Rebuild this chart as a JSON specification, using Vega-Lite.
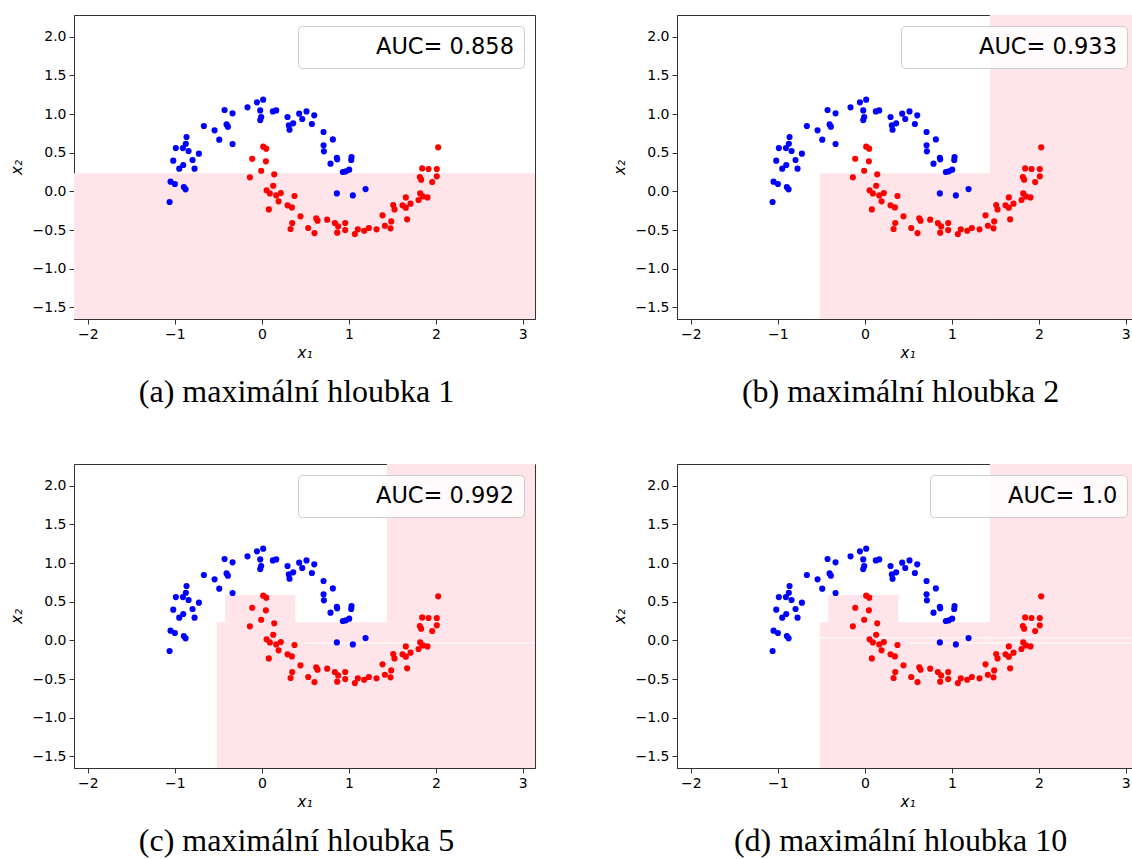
{
  "$schema": "https://vega.github.io/schema/vega-lite/v6.json",
  "padding": {"left": 8, "top": 14, "right": 0, "bottom": 0},
  "background": "white",
  "datasets": {
    "moons": [
      {"x1": -1.061, "x2": -0.138, "label": 0}, {"x1": -1.050, "x2": 0.125, "label": 0}, {"x1": -1.000, "x2": 0.095, "label": 0},
      {"x1": -0.897, "x2": 0.056, "label": 0}, {"x1": -0.877, "x2": 0.026, "label": 0}, {"x1": -1.019, "x2": 0.397, "label": 0},
      {"x1": -0.950, "x2": 0.293, "label": 0}, {"x1": -0.904, "x2": 0.341, "label": 0}, {"x1": -0.989, "x2": 0.560, "label": 0},
      {"x1": -0.908, "x2": 0.560, "label": 0}, {"x1": -0.874, "x2": 0.616, "label": 0}, {"x1": -0.866, "x2": 0.703, "label": 0},
      {"x1": -0.843, "x2": 0.522, "label": 0}, {"x1": -0.797, "x2": 0.405, "label": 0}, {"x1": -0.774, "x2": 0.293, "label": 0},
      {"x1": -0.724, "x2": 0.487, "label": 0}, {"x1": -0.667, "x2": 0.845, "label": 0}, {"x1": -0.544, "x2": 0.789, "label": 0},
      {"x1": -0.490, "x2": 0.668, "label": 0}, {"x1": -0.406, "x2": 0.866, "label": 0}, {"x1": -0.391, "x2": 0.836, "label": 0},
      {"x1": -0.429, "x2": 1.052, "label": 0}, {"x1": -0.337, "x2": 1.009, "label": 0}, {"x1": -0.337, "x2": 0.612, "label": 0},
      {"x1": -0.165, "x2": 1.086, "label": 0}, {"x1": -0.057, "x2": 1.151, "label": 0}, {"x1": 0.015, "x2": 1.185, "label": 0},
      {"x1": -0.019, "x2": 1.047, "label": 0}, {"x1": -0.008, "x2": 0.961, "label": 0}, {"x1": -0.019, "x2": 0.922, "label": 0},
      {"x1": 0.126, "x2": 1.034, "label": 0}, {"x1": 0.165, "x2": 1.047, "label": 0}, {"x1": 0.295, "x2": 0.961, "label": 0},
      {"x1": 0.310, "x2": 0.853, "label": 0}, {"x1": 0.360, "x2": 0.879, "label": 0}, {"x1": 0.318, "x2": 0.797, "label": 0},
      {"x1": 0.429, "x2": 1.004, "label": 0}, {"x1": 0.464, "x2": 0.935, "label": 0}, {"x1": 0.513, "x2": 1.034, "label": 0},
      {"x1": 0.602, "x2": 0.983, "label": 0}, {"x1": 0.575, "x2": 0.871, "label": 0}, {"x1": 0.709, "x2": 0.767, "label": 0},
      {"x1": 0.816, "x2": 0.672, "label": 0}, {"x1": 0.709, "x2": 0.595, "label": 0}, {"x1": 0.713, "x2": 0.517, "label": 0},
      {"x1": 0.862, "x2": 0.435, "label": 0}, {"x1": 0.866, "x2": 0.414, "label": 0}, {"x1": 0.789, "x2": 0.358, "label": 0},
      {"x1": 1.031, "x2": 0.444, "label": 0}, {"x1": 1.027, "x2": 0.405, "label": 0}, {"x1": 0.931, "x2": 0.250, "label": 0},
      {"x1": 0.966, "x2": 0.259, "label": 0}, {"x1": 1.004, "x2": 0.280, "label": 0}, {"x1": 0.862, "x2": -0.026, "label": 0},
      {"x1": 1.046, "x2": -0.052, "label": 0}, {"x1": 1.192, "x2": 0.030, "label": 0},
      {"x1": 0.015, "x2": 0.578, "label": 1}, {"x1": 0.050, "x2": 0.552, "label": 1}, {"x1": -0.111, "x2": 0.422, "label": 1},
      {"x1": 0.046, "x2": 0.388, "label": 1}, {"x1": -0.138, "x2": 0.181, "label": 1}, {"x1": -0.008, "x2": 0.267, "label": 1},
      {"x1": 0.142, "x2": 0.220, "label": 1}, {"x1": 0.054, "x2": 0.013, "label": 1}, {"x1": 0.092, "x2": -0.026, "label": 1},
      {"x1": 0.130, "x2": 0.073, "label": 1}, {"x1": 0.165, "x2": -0.052, "label": 1}, {"x1": 0.218, "x2": -0.022, "label": 1},
      {"x1": 0.192, "x2": -0.129, "label": 1}, {"x1": 0.080, "x2": -0.233, "label": 1}, {"x1": 0.295, "x2": -0.181, "label": 1},
      {"x1": 0.345, "x2": -0.207, "label": 1}, {"x1": 0.375, "x2": -0.060, "label": 1}, {"x1": 0.444, "x2": -0.323, "label": 1},
      {"x1": 0.349, "x2": -0.409, "label": 1}, {"x1": 0.330, "x2": -0.487, "label": 1}, {"x1": 0.533, "x2": -0.474, "label": 1},
      {"x1": 0.605, "x2": -0.539, "label": 1}, {"x1": 0.625, "x2": -0.349, "label": 1}, {"x1": 0.640, "x2": -0.379, "label": 1},
      {"x1": 0.751, "x2": -0.366, "label": 1}, {"x1": 0.839, "x2": -0.409, "label": 1}, {"x1": 0.877, "x2": -0.453, "label": 1},
      {"x1": 0.866, "x2": -0.534, "label": 1}, {"x1": 0.958, "x2": -0.409, "label": 1}, {"x1": 0.958, "x2": -0.500, "label": 1},
      {"x1": 1.069, "x2": -0.552, "label": 1}, {"x1": 1.103, "x2": -0.491, "label": 1}, {"x1": 1.176, "x2": -0.509, "label": 1},
      {"x1": 1.230, "x2": -0.474, "label": 1}, {"x1": 1.318, "x2": -0.491, "label": 1}, {"x1": 1.387, "x2": -0.310, "label": 1},
      {"x1": 1.414, "x2": -0.444, "label": 1}, {"x1": 1.479, "x2": -0.478, "label": 1}, {"x1": 1.487, "x2": -0.388, "label": 1},
      {"x1": 1.510, "x2": -0.177, "label": 1}, {"x1": 1.525, "x2": -0.233, "label": 1}, {"x1": 1.617, "x2": -0.181, "label": 1},
      {"x1": 1.655, "x2": -0.078, "label": 1}, {"x1": 1.655, "x2": -0.211, "label": 1}, {"x1": 1.670, "x2": -0.362, "label": 1},
      {"x1": 1.709, "x2": -0.159, "label": 1}, {"x1": 1.801, "x2": -0.112, "label": 1}, {"x1": 1.820, "x2": -0.026, "label": 1},
      {"x1": 1.851, "x2": -0.065, "label": 1}, {"x1": 1.904, "x2": -0.078, "label": 1}, {"x1": 1.816, "x2": 0.185, "label": 1},
      {"x1": 1.831, "x2": 0.151, "label": 1}, {"x1": 1.843, "x2": 0.297, "label": 1}, {"x1": 1.916, "x2": 0.289, "label": 1},
      {"x1": 1.958, "x2": 0.121, "label": 1}, {"x1": 2.011, "x2": 0.289, "label": 1}, {"x1": 2.011, "x2": 0.194, "label": 1},
      {"x1": 2.027, "x2": 0.569, "label": 1}
    ],
    "regions": [
      {"p": "a", "x": -2.16, "x2": 3.14, "y": -1.65, "y2": 0.233, "cls": 1},
      {"p": "b", "x": -0.519, "x2": 1.437, "y": -1.65, "y2": 0.233, "cls": 1},
      {"p": "b", "x": 1.437, "x2": 3.14, "y": -1.65, "y2": 2.28, "cls": 1},
      {"p": "c", "x": -0.519, "x2": 1.437, "y": -1.65, "y2": 0.233, "cls": 1},
      {"p": "c", "x": -0.421, "x2": 0.385, "y": 0.233, "y2": 0.586, "cls": 1},
      {"p": "c", "x": 1.437, "x2": 3.14, "y": -1.65, "y2": 2.28, "cls": 1},
      {"p": "c", "x": 0.494, "x2": 3.14, "y": -0.041, "y2": -0.028, "cls": 0},
      {"p": "d", "x": -0.519, "x2": 1.437, "y": -1.65, "y2": 0.233, "cls": 1},
      {"p": "d", "x": -0.421, "x2": 0.385, "y": 0.233, "y2": 0.586, "cls": 1},
      {"p": "d", "x": 1.437, "x2": 3.14, "y": -1.65, "y2": 2.28, "cls": 1},
      {"p": "d", "x": -0.519, "x2": 3.14, "y": 0.028, "y2": 0.041, "cls": 0},
      {"p": "d", "x": 0.487, "x2": 3.14, "y": -0.041, "y2": -0.028, "cls": 0}
    ]
  },
  "columns": 2,
  "spacing": {"column": 75, "row": 54},
  "resolve": {
    "scale": {"x": "independent", "y": "independent", "shape": "independent", "fill": "independent", "color": "independent"},
    "legend": {"shape": "independent"}
  },
  "concat": [
    {
      "width": 461, "height": 304,
      "title": {"text": "(a) maximální hloubka 1", "dx": -8},
      "layer": [
        {"data": {"name": "regions"}, "transform": [{"filter": "datum.p === 'a'"}],
         "mark": {"type": "rect", "clip": true},
         "encoding": {
           "x": {"field": "x", "type": "quantitative", "scale": {"domain": [-2.16, 3.14], "nice": false, "zero": false}, "axis": {"title": "x₁", "values": [-2, -1, 0, 1, 2, 3], "format": "d"}},
           "x2": {"field": "x2"},
           "y": {"field": "y", "type": "quantitative", "scale": {"domain": [-1.65, 2.28], "nice": false, "zero": false}, "axis": {"title": "x₂", "values": [-1.5, -1, -0.5, 0, 0.5, 1, 1.5, 2], "format": ".1f"}},
           "y2": {"field": "y2"},
           "fill": {"field": "cls", "type": "nominal", "scale": {"domain": [0, 1], "range": ["#ffffff", "#ffe5e9"]}, "legend": null}
         }},
        {"data": {"name": "moons"}, "mark": {"type": "circle", "size": 38, "opacity": 1},
         "encoding": {
           "x": {"field": "x1", "type": "quantitative"},
           "y": {"field": "x2", "type": "quantitative"},
           "color": {"field": "label", "type": "nominal", "scale": {"domain": [0, 1], "range": ["#0000ff", "#ff0000"]}, "legend": null}
         }},
        {"data": {"values": [{"auc": "AUC= 0.858"}]}, "mark": {"type": "point", "opacity": 0},
         "encoding": {"shape": {"field": "auc", "type": "nominal", "legend": {"title": null}}}}
      ]
    },
    {
      "width": 461, "height": 304,
      "title": {"text": "(b) maximální hloubka 2", "dx": -7},
      "layer": [
        {"data": {"name": "regions"}, "transform": [{"filter": "datum.p === 'b'"}],
         "mark": {"type": "rect", "clip": true},
         "encoding": {
           "x": {"field": "x", "type": "quantitative", "scale": {"domain": [-2.16, 3.14], "nice": false, "zero": false}, "axis": {"title": "x₁", "values": [-2, -1, 0, 1, 2, 3], "format": "d"}},
           "x2": {"field": "x2"},
           "y": {"field": "y", "type": "quantitative", "scale": {"domain": [-1.65, 2.28], "nice": false, "zero": false}, "axis": {"title": "x₂", "values": [-1.5, -1, -0.5, 0, 0.5, 1, 1.5, 2], "format": ".1f"}},
           "y2": {"field": "y2"},
           "fill": {"field": "cls", "type": "nominal", "scale": {"domain": [0, 1], "range": ["#ffffff", "#ffe5e9"]}, "legend": null}
         }},
        {"data": {"name": "moons"}, "mark": {"type": "circle", "size": 38, "opacity": 1},
         "encoding": {
           "x": {"field": "x1", "type": "quantitative"},
           "y": {"field": "x2", "type": "quantitative"},
           "color": {"field": "label", "type": "nominal", "scale": {"domain": [0, 1], "range": ["#0000ff", "#ff0000"]}, "legend": null}
         }},
        {"data": {"values": [{"auc": "AUC= 0.933"}]}, "mark": {"type": "point", "opacity": 0},
         "encoding": {"shape": {"field": "auc", "type": "nominal", "legend": {"title": null}}}}
      ]
    },
    {
      "width": 461, "height": 304,
      "title": {"text": "(c) maximální hloubka 5", "dx": -8},
      "layer": [
        {"data": {"name": "regions"}, "transform": [{"filter": "datum.p === 'c'"}],
         "mark": {"type": "rect", "clip": true},
         "encoding": {
           "x": {"field": "x", "type": "quantitative", "scale": {"domain": [-2.16, 3.14], "nice": false, "zero": false}, "axis": {"title": "x₁", "values": [-2, -1, 0, 1, 2, 3], "format": "d"}},
           "x2": {"field": "x2"},
           "y": {"field": "y", "type": "quantitative", "scale": {"domain": [-1.65, 2.28], "nice": false, "zero": false}, "axis": {"title": "x₂", "values": [-1.5, -1, -0.5, 0, 0.5, 1, 1.5, 2], "format": ".1f"}},
           "y2": {"field": "y2"},
           "fill": {"field": "cls", "type": "nominal", "scale": {"domain": [0, 1], "range": ["#ffffff", "#ffe5e9"]}, "legend": null}
         }},
        {"data": {"name": "moons"}, "mark": {"type": "circle", "size": 38, "opacity": 1},
         "encoding": {
           "x": {"field": "x1", "type": "quantitative"},
           "y": {"field": "x2", "type": "quantitative"},
           "color": {"field": "label", "type": "nominal", "scale": {"domain": [0, 1], "range": ["#0000ff", "#ff0000"]}, "legend": null}
         }},
        {"data": {"values": [{"auc": "AUC= 0.992"}]}, "mark": {"type": "point", "opacity": 0},
         "encoding": {"shape": {"field": "auc", "type": "nominal", "legend": {"title": null}}}}
      ]
    },
    {
      "width": 461, "height": 304,
      "title": {"text": "(d) maximální hloubka 10", "dx": -7},
      "layer": [
        {"data": {"name": "regions"}, "transform": [{"filter": "datum.p === 'd'"}],
         "mark": {"type": "rect", "clip": true},
         "encoding": {
           "x": {"field": "x", "type": "quantitative", "scale": {"domain": [-2.16, 3.14], "nice": false, "zero": false}, "axis": {"title": "x₁", "values": [-2, -1, 0, 1, 2, 3], "format": "d"}},
           "x2": {"field": "x2"},
           "y": {"field": "y", "type": "quantitative", "scale": {"domain": [-1.65, 2.28], "nice": false, "zero": false}, "axis": {"title": "x₂", "values": [-1.5, -1, -0.5, 0, 0.5, 1, 1.5, 2], "format": ".1f"}},
           "y2": {"field": "y2"},
           "fill": {"field": "cls", "type": "nominal", "scale": {"domain": [0, 1], "range": ["#ffffff", "#ffe5e9"]}, "legend": null}
         }},
        {"data": {"name": "moons"}, "mark": {"type": "circle", "size": 38, "opacity": 1},
         "encoding": {
           "x": {"field": "x1", "type": "quantitative"},
           "y": {"field": "x2", "type": "quantitative"},
           "color": {"field": "label", "type": "nominal", "scale": {"domain": [0, 1], "range": ["#0000ff", "#ff0000"]}, "legend": null}
         }},
        {"data": {"values": [{"auc": "AUC= 1.0"}]}, "mark": {"type": "point", "opacity": 0},
         "encoding": {"shape": {"field": "auc", "type": "nominal", "legend": {"title": null}}}}
      ]
    }
  ],
  "config": {
    "view": {"stroke": "#333333", "strokeWidth": 1},
    "axis": {
      "grid": false, "domainColor": "#333333", "tickColor": "#333333", "tickSize": 5, "tickWidth": 1,
      "labelFont": "DejaVu Sans", "labelFontSize": 14, "labelColor": "#000000", "labelPadding": 3,
      "labelFlush": false, "labelOverlap": false,
      "titleFont": "DejaVu Sans", "titleFontSize": 15, "titleFontStyle": "italic", "titleFontWeight": "normal", "titleColor": "#000000"
    },
    "axisX": {"titlePadding": 4},
    "axisY": {"titlePadding": 8},
    "legend": {
      "orient": "top-right", "offset": 11, "padding": 9.5,
      "fillColor": "rgba(255,255,255,0.8)", "strokeColor": "#cccccc", "strokeWidth": 1, "cornerRadius": 4,
      "labelFont": "DejaVu Sans", "labelFontSize": 22.5, "labelColor": "#000000", "labelLimit": 400,
      "symbolSize": 100, "symbolOpacity": 0, "symbolStrokeWidth": 0, "labelOffset": 46
    },
    "title": {
      "orient": "bottom", "anchor": "middle", "frame": "group",
      "font": "Liberation Serif", "fontSize": 32, "fontWeight": "normal", "color": "#000000", "offset": 17
    }
  }
}
